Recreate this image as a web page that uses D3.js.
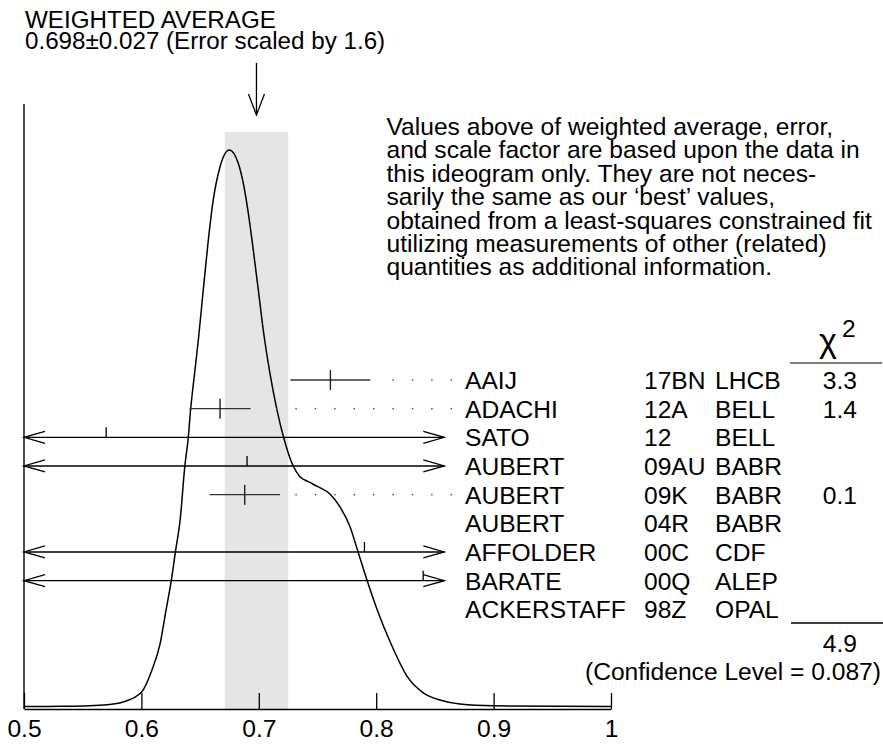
<!DOCTYPE html>
<html><head><meta charset="utf-8">
<script src="https://cdn.jsdelivr.net/npm/d3@7"></script>
<style>
html,body{margin:0;padding:0;background:#fff;}
svg text{font-family:"Liberation Sans",Arial,Helvetica,sans-serif;fill:#000;}
</style></head>
<body><svg id="c" width="883" height="748"></svg>
<script>
// ---- data ----
const titleLines = ["WEIGHTED AVERAGE", "0.698\u00B10.027 (Error scaled by 1.6)"];
const average = 0.698;
const averageError = 0.027;
const names = ["AAIJ","ADACHI","SATO","AUBERT","AUBERT","AUBERT","AFFOLDER","BARATE","ACKERSTAFF"];
const years = ["17BN","12A","12","09AU","09K","04R","00C","00Q","98Z"];
const experiments = ["LHCB","BELL","BELL","BABR","BABR","BABR","CDF","ALEP","OPAL"];
const values = [0.761, 0.667, 0.570, 0.690, 0.688, null, 0.790, 0.840, null];
const errors = [0.034, 0.026, null, null, 0.030, null, null, null, null]; // null = error larger than plotted range
const chi2 = ["3.3","1.4","","","0.1","","","",""];
const chi2Total = "4.9";
const confidence = "(Confidence Level = 0.087)";
const noteLines = [
 "Values above of weighted average, error,",
 "and scale factor are based upon the data in",
 "this ideogram only.  They are not neces-",
 "sarily the same as our \u2018best\u2019 values,",
 "obtained from a least-squares constrained fit",
 "utilizing measurements of other (related)",
 "quantities as additional information."
];
const xTicks = [0.5,0.6,0.7,0.8,0.9,1.0];
const measureLimit = 0.858; // right end of measurement region
// ideogram curve, read off the picture (x value, relative height)
const curveX = [0.500,0.531,0.568,0.585,0.600,0.609,0.616,0.621,0.6255,0.629,0.633,0.637,0.640,0.642,0.644,0.6485,0.6527,0.657,0.6612,0.667,0.6749,0.6825,0.6868,0.6911,0.6953,0.6996,0.7038,0.7095,0.7152,0.721,0.7294,0.7351,0.7422,0.7504,0.7606,0.7692,0.7777,0.7845,0.7922,0.8009,0.8124,0.8265,0.8407,0.8543,0.8714,0.900,1.000];
const curveY = [0.0045,0.0048,0.0072,0.0131,0.0299,0.0698,0.1175,0.1771,0.2302,0.2814,0.3381,0.4347,0.4871,0.5379,0.5766,0.6601,0.7496,0.839,0.9106,0.9701,1.0,0.9762,0.9404,0.8868,0.8211,0.7496,0.678,0.6005,0.5379,0.4871,0.4342,0.4156,0.4066,0.3977,0.3846,0.3614,0.3261,0.2814,0.2302,0.1771,0.1175,0.0578,0.0281,0.0161,0.0089,0.0057,0.0045];

// ---- drawing ----
const svg = d3.select("#c");
const x = d3.scaleLinear().domain([0.5,1]).range([24,611]);
const baseY = 709;
const yC = d3.scaleLinear().domain([0,1]).range([baseY,150]);
const rowY = d3.scalePoint().domain(d3.range(names.length)).range([380, 609.3]);
const FS = 24.6;

// shaded band
svg.append("rect").attr("x", x(average-averageError)).attr("y",132)
  .attr("width", x(average+averageError)-x(average-averageError)).attr("height", baseY-132)
  .attr("fill","#e5e5e5");

// y axis line
svg.append("line").attr("x1",24).attr("x2",24).attr("y1",104).attr("y2",baseY)
  .attr("stroke","#000").attr("stroke-width",1.4);

// x axis
const ax = svg.append("g").attr("transform",`translate(0,${baseY})`)
  .call(d3.axisBottom(x).tickValues(xTicks).tickSizeInner(-16).tickSizeOuter(0).tickPadding(11)
    .tickFormat(d=>d3.format("~g")(d)));
ax.select(".domain").attr("stroke","#000").attr("stroke-width",1.4);
ax.selectAll(".tick line").attr("stroke","#000").attr("stroke-width",1.3);
ax.selectAll(".tick text").attr("font-size",FS).attr("font-family","Liberation Sans, Arial, sans-serif").attr("fill","#000");

// curve
const pts = curveX.map((v,i)=>[v,curveY[i]]);
svg.append("path").datum(pts)
  .attr("d", d3.line().x(d=>x(d[0])).y(d=>yC(d[1])).curve(d3.curveMonotoneX))
  .attr("fill","none").attr("stroke","#000").attr("stroke-width",1.5);

// title
svg.selectAll(".title").data(titleLines).join("text")
  .attr("x",25).attr("y",(d,i)=>27.5+i*21.3).attr("font-size",24.2).text(d=>d);

// arrow to average
const ax0 = x(average);
svg.append("line").attr("x1",ax0).attr("x2",ax0).attr("y1",63).attr("y2",115).attr("stroke","#000").attr("stroke-width",1.3);
svg.append("path").attr("d",`M${ax0-8},94 L${ax0},115 L${ax0+8},94`).attr("fill","none").attr("stroke","#000").attr("stroke-width",1.3);

// note paragraph
svg.selectAll(".note").data(noteLines).join("text")
  .attr("x",386.5).attr("y",(d,i)=>135+i*23.4).attr("font-size",FS).text(d=>d);

// measurements
const xL = x(0.5), xR = x(measureLimit);
const dotStep = 19.4;
names.forEach((n,i)=>{
  const y = rowY(i), v = values[i], e = errors[i];
  const g = svg.append("g");
  if (v !== null && e === null) {
    g.append("line").attr("x1",xL).attr("x2",xR).attr("y1",y).attr("y2",y).attr("stroke","#000").attr("stroke-width",1.3);
    g.append("path").attr("d",`M${xL+21},${y-6} L${xL},${y} L${xL+21},${y+6}`).attr("fill","none").attr("stroke","#000").attr("stroke-width",1.3);
    g.append("path").attr("d",`M${xR-21},${y-6} L${xR},${y} L${xR-21},${y+6}`).attr("fill","none").attr("stroke","#000").attr("stroke-width",1.3);
    g.append("line").attr("x1",x(v)).attr("x2",x(v)).attr("y1",y-10).attr("y2",y).attr("stroke","#000").attr("stroke-width",1.3);
  } else if (v !== null) {
    const a = x(v-e), b = x(v+e);
    g.append("line").attr("x1",a).attr("x2",b).attr("y1",y).attr("y2",y).attr("stroke","#333").attr("stroke-width",1.4);
    g.append("line").attr("x1",x(v)).attr("x2",x(v)).attr("y1",y-10).attr("y2",y+10).attr("stroke","#222").attr("stroke-width",1.4);
    for (let p = xR+7; p > b + 8; p -= dotStep) {
      g.append("rect").attr("x",p-0.75).attr("y",y-0.75).attr("width",1.5).attr("height",1.5).attr("fill","#555");
    }
  }
  svg.append("text").attr("x",465).attr("y",y+9).attr("font-size",FS).text(n);
  svg.append("text").attr("x",644).attr("y",y+9).attr("font-size",FS).text(years[i]);
  svg.append("text").attr("x",715).attr("y",y+9).attr("font-size",FS).text(experiments[i]);
  if (chi2[i]) svg.append("text").attr("x",857).attr("y",y+9).attr("font-size",FS).attr("text-anchor","end").text(chi2[i]);
});

// chi2 header
svg.append("text").attr("x",819).attr("y",352).attr("font-size",34).text("\u03C7");
svg.append("text").attr("x",842).attr("y",337).attr("font-size",FS).text("2");
svg.append("line").attr("x1",790).attr("x2",882).attr("y1",363).attr("y2",363).attr("stroke","#555").attr("stroke-width",1.4);
svg.append("line").attr("x1",791).attr("x2",883).attr("y1",623).attr("y2",623).attr("stroke","#000").attr("stroke-width",1.4);
svg.append("text").attr("x",857).attr("y",652).attr("font-size",FS).attr("text-anchor","end").text(chi2Total);
svg.append("text").attr("x",881).attr("y",680).attr("font-size",FS).attr("text-anchor","end").text(confidence);
</script></body></html>
